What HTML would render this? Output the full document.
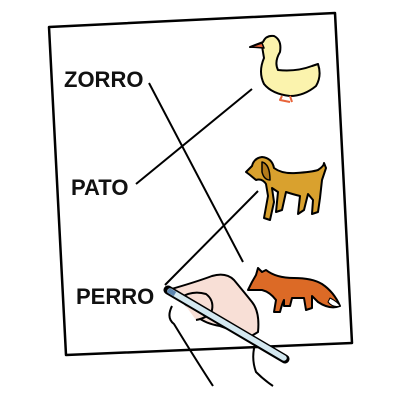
<!DOCTYPE html>
<html><head><meta charset="utf-8"><style>
html,body{margin:0;padding:0;background:#fff;width:400px;height:400px;overflow:hidden}
text{font-family:"Liberation Sans",sans-serif;font-weight:bold;font-size:22px;fill:#111}
</style></head><body>
<svg width="400" height="400" viewBox="0 0 400 400">
<polygon points="49,27 335,13 352,343 66,355" fill="#fff" stroke="#000" stroke-width="2.5" stroke-linejoin="round"/>
<text x="64" y="87">ZORRO</text>
<text x="71" y="195">PATO</text>
<text x="76" y="304">PERRO</text>
<g stroke="#000" stroke-width="2" fill="none">
<line x1="149" y1="83" x2="243" y2="262"/>
<line x1="136" y1="184" x2="252" y2="89"/>
<line x1="165" y1="285" x2="258" y2="191"/>
</g>
<g stroke="#000" stroke-width="2" stroke-linejoin="round">
<path d="M262,46 L250,47 L263,42 Q266,35 274,36 Q282,40 280,52 Q274,62 278,70 Q296,72 312,66 L318,64 Q322,76 316,86 Q304,96 290,96 Q272,94 264,84 Q258,72 264,58 Z" fill="#fbf3ad"/>
<path d="M250,47 L262,43 L264,48 Z" fill="#e8643a" stroke-width="1.5"/>
<path d="M282,96 L280,100 L290,102 M290,96 L292,102" fill="none" stroke="#e8643a" stroke-width="2"/>
</g>
<g stroke="#000" stroke-width="2" stroke-linejoin="round">
<path d="M250,175 L246,172 L252,166 Q254,158 262,157 Q272,158 274,168 Q282,174 296,173 Q312,172 318,170 Q324,166 324,163 L326,168 Q324,174 322,180 L320,198 L318,212 L312,214 L313,200 L308,194 L304,210 L298,214 L300,196 Q292,194 286,192 L282,210 L276,212 L278,192 L272,188 L274,202 L270,220 L264,218 L268,196 L266,184 Q262,178 256,180 Z" fill="#d9a12e"/>
<path d="M262,162 Q270,164 270,180 Q264,180 262,172 Z" fill="#b37a1a" stroke-width="1.5"/>
</g>
<g stroke="#000" stroke-width="2" stroke-linejoin="round">
<path d="M248,290 L252,282 L256,275 L258,268 L262,272 L266,270 Q276,278 294,278 Q312,278 322,284 Q334,292 340,306 Q330,310 318,302 L312,296 L312,308 L306,310 L304,298 L292,298 L290,306 L284,306 L284,300 Q282,304 280,312 L274,312 L276,300 Q270,292 262,290 Z" fill="#dc6a26"/>
<path d="M330,298 Q338,302 340,306 Q333,308 328,302 Z" fill="#fff" stroke-width="1"/>
</g>
<g stroke="#000" stroke-width="2" stroke-linejoin="round">
<path d="M168,290 Q196,282 212,276 Q226,272 234,280 Q244,292 252,302 Q260,312 258,332 L248,338 Q232,330 220,326 Q206,324 196,316 Q186,304 178,298 Z" fill="#f8dfd6"/>
<path d="M180,298 Q192,290 206,294 Q214,300 212,310 Q208,318 196,320" fill="#f8dfd6"/>
<path d="M172,306 Q166,318 174,324 Q196,360 213,386" fill="none"/>
<path d="M257,338 Q250,356 256,372 Q264,380 273,386" fill="none"/>
<line x1="168" y1="290" x2="285" y2="359" stroke="#000" stroke-width="9" stroke-linecap="round"/>
<line x1="170" y1="291" x2="284" y2="358" stroke="#d4e8f0" stroke-width="5.5" stroke-linecap="round"/>
<line x1="168" y1="290" x2="175" y2="294" stroke="#5d86b0" stroke-width="5"/>
</g>
</svg>
</body></html>
